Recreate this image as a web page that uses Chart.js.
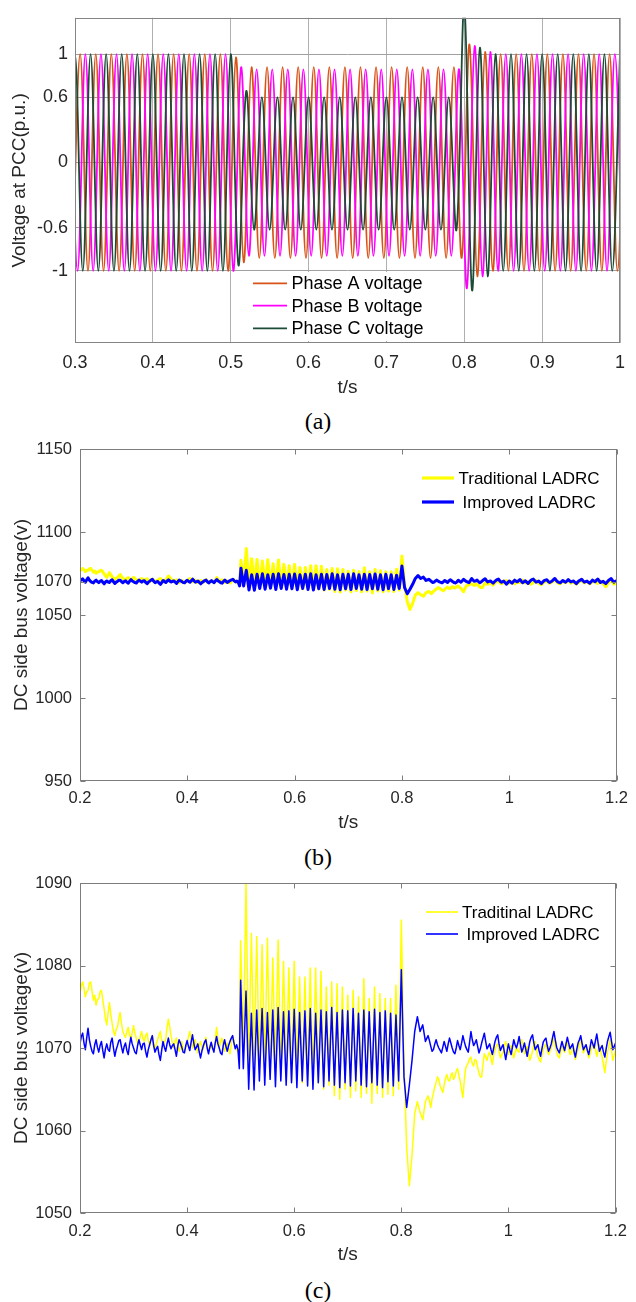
<!DOCTYPE html>
<html><head><meta charset="utf-8">
<script src="https://cdn.jsdelivr.net/npm/chart.js@4.4.0/dist/chart.umd.min.js"></script>
<style>
html,body{margin:0;padding:0;background:#fff;}
body{width:636px;height:1302px;position:relative;overflow:hidden;}
canvas{position:absolute;left:0;}
.cap{position:absolute;left:0;width:636px;text-align:center;font-family:"Liberation Serif","Times New Roman",serif;font-size:24px;color:#000;line-height:28px;}
</style></head><body>
<canvas id="ca" width="636" height="400" style="top:0px"></canvas>
<div class="cap" style="top:407px">(a)</div>
<canvas id="cb" width="636" height="405" style="top:430px"></canvas>
<div class="cap" style="top:843px">(b)</div>
<canvas id="cc" width="636" height="405" style="top:865px"></canvas>
<div class="cap" style="top:1276px">(c)</div>
<script>
// ---------- Panel (a) : tick values / labels ----------
const aXTicks = [0.3, 0.4, 0.5, 0.6, 0.7, 0.8, 0.9, 1];
const aXLabels = ['0.3', '0.4', '0.5', '0.6', '0.7', '0.8', '0.9', '1'];
const aYTicks = [-1, -0.6, 0, 0.6, 1];
const aYLabels = ['-1', '-0.6', '0', '0.6', '1'];
const aSeriesNames = ['Phase A voltage', 'Phase B voltage', 'Phase C voltage'];

// Phase voltages: successive extrema (p.u.), one every half cycle (0.01 s)
const phaseFirstTime = { A: 0.29667, B: 0.29333, C: 0.29 };
const halfCycle = 0.01;
const phaseA = [
  -1, 1, -1, 1, -1, 1, -1, 1, -1, 1,
  -1, 1, -1, 1, -1, 1, -1, 1, -1, 1,
  -1, 0.97, -0.92, 0.88, -0.88, 0.88, -0.88, 0.88, -0.88, 0.88,
  -0.88, 0.88, -0.88, 0.88, -0.88, 0.88, -0.88, 0.88, -0.88, 0.88,
  -0.88, 0.88, -0.88, 0.88, -0.88, 0.88, -0.88, 0.88, -0.88, 0.88,
  -0.88, 1.09, -1.05, 1.02, -1, 1, -1, 1, -1, 1,
  -1, 1, -1, 1, -1, 1, -1, 1, -1, 1,
  -1, 1
];
const phaseB = [
  1, -1, 1, -1, 1, -1, 1, -1, 1, -1,
  1, -1, 1, -1, 1, -1, 1, -1, 1, -1,
  1, -1, 0.88, -0.86, 0.86, -0.86, 0.86, -0.86, 0.86, -0.86,
  0.86, -0.86, 0.86, -0.86, 0.86, -0.86, 0.86, -0.86, 0.86, -0.86,
  0.86, -0.86, 0.86, -0.86, 0.86, -0.86, 0.86, -0.86, 0.86, -0.86,
  0.86, -1.16, 1.075, -1.05, 1.02, -1, 1, -1, 1, -1,
  1, -1, 1, -1, 1, -1, 1, -1, 1, -1,
  1, -1
];
const phaseC = [
  -1, 1, -1, 1, -1, 1, -1, 1, -1, 1,
  -1, 1, -1, 1, -1, 1, -1, 1, -1, 1,
  -1, 1, -0.95, 0.66, -0.62, 0.6, -0.62, 0.6, -0.62, 0.6,
  -0.62, 0.6, -0.62, 0.6, -0.62, 0.6, -0.62, 0.6, -0.62, 0.6,
  -0.62, 0.6, -0.62, 0.6, -0.62, 0.6, -0.62, 0.6, -0.62, 0.6,
  -0.62, 1.45, -1.18, 1.06, -1.05, 1, -1, 1, -1, 1,
  -1, 1, -1, 1, -1, 1, -1, 1, -1, 1,
  -1, 1
];

// ---------- Panels (b) and (c) : DC bus voltage ----------
const dcXTicks = [0.2, 0.4, 0.6, 0.8, 1, 1.2];
const dcXLabels = ['0.2', '0.4', '0.6', '0.8', '1', '1.2'];
const bYTicks = [950, 1000, 1050, 1070, 1100, 1150];
const cYTicks = [1050, 1060, 1070, 1080, 1090];
const bSeriesNames = ['Traditional LADRC', 'Improved LADRC'];
const cSeriesNames = ['Traditinal LADRC', 'Improved LADRC'];

// sampling of the three pieces: [first time, step]
const dcPiece1 = [0.2, 0.0025];   // 0.2000 - 0.4975
const dcPiece2 = [0.5, 0.005];    // 0.500  - 0.845
const dcPiece3 = [0.85, 0.0025];  // 0.8500 - 1.2000

const traditional1 = [
  1076.5, 1077.6, 1078.0, 1077.2, 1076.2, 1076.8, 1077.0, 1077.9, 1078.0, 1076.9,
  1075.8, 1076.4, 1075.2, 1075.9, 1076.0, 1076.8, 1077.0, 1075.9, 1074.8, 1073.6,
  1072.8, 1074.2, 1075.5, 1074.1, 1073.0, 1072.0, 1071.5, 1072.3, 1072.5, 1073.6,
  1074.3, 1073.0, 1072.0, 1071.6, 1071.3, 1072.0, 1072.5, 1071.6, 1071.0, 1071.9,
  1072.7, 1071.8, 1071.2, 1070.6, 1070.5, 1071.4, 1072.0, 1071.2, 1070.8, 1071.5,
  1071.8, 1070.9, 1070.2, 1071.0, 1071.5, 1070.6, 1069.8, 1070.5, 1071.0, 1071.6,
  1072.0, 1071.0, 1070.2, 1070.7, 1071.0, 1072.4, 1073.5, 1072.6, 1071.5, 1070.6,
  1070.0, 1070.8, 1071.2, 1070.3, 1069.6, 1070.2, 1070.8, 1070.0, 1069.5, 1070.1,
  1070.6, 1071.3, 1072.0, 1071.0, 1070.0, 1070.6, 1071.0, 1070.1, 1069.4, 1070.2,
  1070.8, 1070.2, 1069.8, 1070.6, 1071.3, 1070.4, 1069.5, 1070.1, 1070.5, 1069.9,
  1069.7, 1071.0, 1072.5, 1071.2, 1070.0, 1070.7, 1071.2, 1070.3, 1069.6, 1070.1,
  1070.6, 1069.9, 1069.3, 1070.4, 1071.5, 1070.8, 1070.2, 1069.8, 1069.5, 1070.0
];
const traditional2 = [
  1083.0, 1069.0, 1090.0, 1067.5, 1083.9, 1068.0, 1083.5, 1067.0, 1082.5, 1067.5,
  1083.3, 1066.8, 1080.9, 1067.2, 1083.1, 1066.5, 1080.5, 1066.8, 1079.7, 1066.0,
  1080.5, 1066.5, 1078.6, 1065.8, 1078.6, 1066.2, 1079.7, 1065.5, 1079.7, 1065.8,
  1079.3, 1065.0, 1077.4, 1065.5, 1078.0, 1064.2, 1077.8, 1063.8, 1077.4, 1065.0,
  1076.4, 1064.0, 1077.0, 1064.8, 1076.2, 1064.0, 1078.4, 1064.5, 1076.0, 1063.3,
  1077.4, 1064.5, 1076.6, 1064.0, 1076.0, 1064.4, 1076.0, 1064.2, 1077.6, 1065.0,
  1085.5, 1068.0, 1058.0, 1053.3, 1057.0, 1062.0, 1063.5, 1062.2, 1061.3, 1063.5
];
const traditional3 = [
  1064.2, 1063.6, 1062.8, 1063.9, 1064.5, 1065.3, 1065.8, 1066.5, 1066.2, 1065.4,
  1065.0, 1064.6, 1065.5, 1066.3, 1066.8, 1066.1, 1066.0, 1066.7, 1067.0, 1066.2,
  1066.5, 1067.2, 1067.5, 1066.7, 1066.0, 1064.9, 1064.0, 1066.0, 1067.5, 1067.9,
  1068.2, 1068.7, 1068.9, 1068.1, 1067.8, 1068.6, 1068.5, 1067.6, 1067.0, 1066.5,
  1066.5, 1068.0, 1069.3, 1068.9, 1068.5, 1069.2, 1069.5, 1068.7, 1068.0, 1069.1,
  1069.8, 1070.3, 1070.5, 1069.6, 1068.8, 1069.2, 1069.5, 1070.3, 1070.8, 1070.0,
  1069.2, 1069.9, 1070.3, 1069.4, 1068.8, 1069.5, 1070.0, 1069.6, 1069.5, 1070.4,
  1071.0, 1070.1, 1069.3, 1069.8, 1070.2, 1069.3, 1068.5, 1069.0, 1069.6, 1070.3,
  1070.8, 1069.9, 1069.0, 1068.6, 1068.3, 1069.1, 1069.8, 1070.2, 1070.5, 1069.7,
  1069.2, 1069.6, 1070.0, 1070.6, 1071.2, 1070.3, 1069.5, 1069.0, 1068.8, 1069.6,
  1070.3, 1069.8, 1069.5, 1070.2, 1070.8, 1070.0, 1069.2, 1069.5, 1070.0, 1069.3,
  1068.6, 1069.2, 1069.8, 1070.5, 1071.0, 1070.1, 1069.4, 1069.8, 1070.2, 1069.5,
  1068.8, 1069.3, 1069.9, 1070.3, 1070.6, 1069.8, 1069.0, 1069.7, 1070.4, 1069.6,
  1068.9, 1068.0, 1067.0, 1068.3, 1069.5, 1070.2, 1071.0, 1069.8, 1068.5, 1069.1,
  1069.8
];
const improved1 = [
  1070.5, 1071.4, 1071.8, 1070.6, 1069.8, 1071.2, 1072.4, 1071.0, 1070.2, 1069.6,
  1069.3, 1070.4, 1071.0, 1070.1, 1069.5, 1070.3, 1070.8, 1069.7, 1068.8, 1069.9,
  1070.5, 1069.8, 1069.6, 1070.7, 1071.2, 1070.0, 1069.0, 1069.8, 1070.3, 1070.9,
  1071.0, 1070.1, 1069.4, 1070.2, 1070.6, 1069.7, 1069.2, 1070.4, 1071.3, 1070.5,
  1070.0, 1069.5, 1069.3, 1070.3, 1071.0, 1070.4, 1069.8, 1070.5, 1070.6, 1069.6,
  1068.9, 1069.8, 1070.4, 1071.0, 1071.5, 1070.3, 1069.5, 1069.9, 1070.2, 1069.2,
  1068.5, 1069.7, 1070.8, 1070.1, 1069.6, 1070.5, 1071.2, 1070.4, 1069.9, 1070.3,
  1070.5, 1069.8, 1069.0, 1070.2, 1071.0, 1070.6, 1070.1, 1069.5, 1069.4, 1070.3,
  1070.9, 1070.2, 1069.7, 1070.7, 1071.6, 1070.6, 1069.8, 1070.1, 1070.5, 1069.6,
  1068.8, 1069.6, 1070.2, 1070.7, 1071.0, 1070.0, 1069.3, 1070.1, 1070.7, 1070.0,
  1069.5, 1070.6, 1071.4, 1070.5, 1070.0, 1069.4, 1069.2, 1070.3, 1071.0, 1070.2,
  1069.6, 1070.3, 1070.8, 1071.2, 1071.5, 1070.6, 1069.9, 1070.4, 1069.8, 1067.5
];
const improved2 = [
  1078.2, 1067.5, 1076.9, 1065.0, 1074.2, 1064.9, 1074.6, 1066.0, 1074.8, 1065.5,
  1074.3, 1066.2, 1074.6, 1065.3, 1074.9, 1066.0, 1074.4, 1065.5, 1074.5, 1065.8,
  1074.7, 1065.2, 1074.3, 1066.0, 1074.5, 1065.4, 1074.8, 1065.0, 1074.2, 1065.8,
  1074.6, 1065.3, 1074.4, 1066.0, 1074.9, 1065.5, 1074.3, 1065.2, 1074.6, 1065.8,
  1074.5, 1065.4, 1074.8, 1066.0, 1074.2, 1065.5, 1074.6, 1065.3, 1074.4, 1065.8,
  1074.7, 1065.5, 1074.3, 1065.2, 1074.5, 1065.9, 1074.2, 1065.4, 1074.0, 1066.0,
  1079.5, 1066.5, 1062.8, 1065.5, 1068.5, 1072.0, 1073.8, 1072.0, 1072.8, 1070.8
];
const improved3 = [
  1071.5, 1070.9, 1070.2, 1069.6, 1069.8, 1070.5, 1071.0, 1070.4, 1070.0, 1069.7,
  1069.4, 1070.1, 1070.8, 1070.2, 1069.6, 1070.5, 1071.2, 1070.6, 1070.0, 1069.5,
  1069.3, 1070.0, 1070.9, 1070.3, 1069.8, 1070.6, 1071.5, 1070.8, 1070.2, 1069.8,
  1069.5, 1070.7, 1072.0, 1071.0, 1070.3, 1070.6, 1071.0, 1070.2, 1069.4, 1069.9,
  1070.6, 1071.2, 1071.8, 1070.8, 1069.9, 1070.2, 1070.5, 1069.8, 1069.2, 1070.0,
  1070.8, 1071.3, 1071.6, 1070.5, 1069.7, 1070.1, 1070.4, 1069.5, 1068.6, 1069.6,
  1070.5, 1069.8, 1069.2, 1070.1, 1071.0, 1070.4, 1070.0, 1070.6, 1071.4, 1070.4,
  1069.5, 1070.0, 1070.6, 1069.8, 1069.0, 1069.9, 1070.8, 1071.3, 1071.6, 1070.6,
  1069.8, 1070.1, 1070.4, 1069.6, 1069.0, 1069.9, 1070.7, 1071.0, 1071.2, 1070.3,
  1069.6, 1070.0, 1070.5, 1071.3, 1072.0, 1071.0, 1070.1, 1069.7, 1069.4, 1070.1,
  1070.8, 1070.2, 1069.7, 1070.5, 1071.3, 1070.6, 1069.9, 1070.2, 1070.5, 1069.6,
  1068.9, 1069.8, 1070.6, 1071.0, 1071.5, 1070.6, 1069.8, 1070.1, 1070.4, 1069.7,
  1069.2, 1070.1, 1071.0, 1070.5, 1070.0, 1070.9, 1071.7, 1070.6, 1069.6, 1070.0,
  1070.3, 1069.5, 1068.9, 1069.9, 1070.8, 1071.4, 1071.9, 1070.8, 1069.8, 1070.2,
  1070.6
];

// ---------- helpers ----------
const FONT = "'Liberation Sans', Arial, Helvetica, sans-serif";
const TXT = '#262626';
function series(first, step, values) {
  return values.map((v, i) => ({ x: +(first + step * i).toFixed(5), y: v }));
}
function pieces(p1, p2, p3) {
  return series(dcPiece1[0], dcPiece1[1], p1)
    .concat(series(dcPiece2[0], dcPiece2[1], p2))
    .concat(series(dcPiece3[0], dcPiece3[1], p3));
}
function fixedTicks(list) { return (s) => { s.ticks = list.map(v => ({ value: v })); }; }

function decorPlugin(cfg) {
  return {
    id: 'decor',
    afterDatasetsDraw(chart) {
      const ctx = chart.ctx;
      ctx.save();
      if (cfg.legendBg) {
        ctx.fillStyle = '#ffffff';
        ctx.fillRect(cfg.legendBg[0], cfg.legendBg[1], cfg.legendBg[2], cfg.legendBg[3]);
      }
      cfg.legend.forEach(it => {
        ctx.strokeStyle = it.color; ctx.lineWidth = it.w; ctx.lineCap = 'butt';
        ctx.beginPath(); ctx.moveTo(it.x1, it.y); ctx.lineTo(it.x2, it.y); ctx.stroke();
        ctx.fillStyle = '#000'; ctx.font = cfg.legendFont + 'px ' + FONT;
        ctx.textBaseline = 'middle'; ctx.textAlign = 'left';
        ctx.fillText(it.text, it.tx, it.y + 1);
      });
      ctx.restore();
    },
    afterDraw(chart) {
      const ctx = chart.ctx, a = chart.chartArea;
      ctx.save();
      ctx.strokeStyle = cfg.boxColor; ctx.lineWidth = 1;
      const L = Math.round(a.left) + 0.5, R = Math.round(a.right) - 0.5;
      const T = Math.round(a.top) + 0.5, B = Math.round(a.bottom) - 0.5;
      ctx.strokeRect(L, T, R - L, B - T);
      if (cfg.tickLen) {
        const xs = chart.scales.x, ys = chart.scales.y, t = cfg.tickLen;
        ctx.beginPath();
        xs.ticks.forEach(tk => {
          const px = Math.round(xs.getPixelForValue(tk.value)) + 0.5;
          ctx.moveTo(px, B); ctx.lineTo(px, B - t);
          ctx.moveTo(px, T); ctx.lineTo(px, T + t);
        });
        ys.ticks.forEach(tk => {
          const py = Math.round(ys.getPixelForValue(tk.value)) + 0.5;
          ctx.moveTo(L, py); ctx.lineTo(L + t, py);
          ctx.moveTo(R, py); ctx.lineTo(R - t, py);
        });
        ctx.stroke();
      }
      ctx.restore();
    }
  };
}

// ---------- Chart (a) ----------
const colA = '#D95319', colB = '#FF00FF', colC = '#1C4B36';
new Chart(document.getElementById('ca'), {
  type: 'line',
  data: { datasets: [
    { label: aSeriesNames[2], data: series(phaseFirstTime.C, halfCycle, phaseC), borderColor: colC },
    { label: aSeriesNames[1], data: series(phaseFirstTime.B, halfCycle, phaseB), borderColor: colB },
    { label: aSeriesNames[0], data: series(phaseFirstTime.A, halfCycle, phaseA), borderColor: colA }
  ]},
  options: {
    responsive: false, animation: false, devicePixelRatio: 1,
    layout: { padding: { left: 0, right: 16, top: 13, bottom: 0 } },
    elements: { point: { radius: 0 }, line: { tension: 0.363, borderWidth: 1.8, fill: false } },
    plugins: { legend: { display: false }, tooltip: { enabled: false } },
    scales: {
      x: {
        type: 'linear', min: 0.3, max: 1,
        afterBuildTicks: fixedTicks(aXTicks),
        afterFit: s => { s.height = 57; },
        ticks: { callback: (v, i) => aXLabels[i], padding: 9, autoSkip: false, maxRotation: 0,
                 color: TXT, font: { family: FONT, size: 18 } },
        grid: { color: '#b0b0b0', lineWidth: 1, drawTicks: false },
        border: { display: false },
        title: { display: true, text: 't/s', color: TXT, font: { family: FONT, size: 19 }, padding: { top: 0, bottom: 1 } }
      },
      y: {
        type: 'linear', min: -1.665, max: 1.335,
        afterBuildTicks: fixedTicks(aYTicks),
        afterFit: s => { s.width = 75; },
        ticks: { callback: (v, i) => aYLabels[i], padding: 7, autoSkip: false,
                 color: TXT, font: { family: FONT, size: 18 } },
        grid: { color: '#a0a0a0', lineWidth: 1, drawTicks: false },
        border: { display: false },
        title: { display: true, text: 'Voltage at PCC(p.u.)', color: TXT, font: { family: FONT, size: 19 }, padding: { top: 8.5, bottom: 0 } }
      }
    }
  },
  plugins: [decorPlugin({
    boxColor: '#858585', tickLen: 0, legendFont: 18,
    legendBg: [245, 272, 188, 69],
    legend: [
      { text: aSeriesNames[0], color: colA, w: 1.8, x1: 253, x2: 287, tx: 291.5, y: 283.3 },
      { text: aSeriesNames[1], color: colB, w: 1.8, x1: 253, x2: 287, tx: 291.5, y: 305.7 },
      { text: aSeriesNames[2], color: colC, w: 1.8, x1: 253, x2: 287, tx: 291.5, y: 328.3 }
    ]
  })]
});

// ---------- Charts (b) and (c) ----------
function dcChart(id, top, cfg) {
  new Chart(document.getElementById(id), {
    type: 'line',
    data: { datasets: [
      { label: cfg.names[1], data: pieces(improved1, improved2, improved3), borderColor: '#0000FF', borderWidth: cfg.lw },
      { label: cfg.names[0], data: pieces(traditional1, traditional2, traditional3), borderColor: '#FFFF00', borderWidth: cfg.lw }
    ]},
    options: {
      responsive: false, animation: false, devicePixelRatio: 1,
      layout: { padding: { left: 0, right: 16, top: cfg.padTop, bottom: 0 } },
      elements: { point: { radius: 0 }, line: { tension: 0, fill: false, borderJoinStyle: 'round' } },
      plugins: { legend: { display: false }, tooltip: { enabled: false } },
      scales: {
        x: {
          type: 'linear', min: 0.2, max: 1.2,
          afterBuildTicks: fixedTicks(dcXTicks),
          afterFit: s => { s.height = cfg.xh; },
          ticks: { callback: (v, i) => dcXLabels[i], padding: cfg.xPad, autoSkip: false, maxRotation: 0,
                   color: TXT, font: { family: FONT, size: 16.5 } },
          grid: { display: false, drawTicks: false },
          border: { display: false },
          title: { display: true, text: 't/s', color: TXT, font: { family: FONT, size: 19 }, padding: { top: 0, bottom: cfg.tPad } }
        },
        y: {
          type: 'linear', min: cfg.yMin, max: cfg.yMax,
          afterBuildTicks: fixedTicks(cfg.yTicks),
          afterFit: s => { s.width = 80; },
          ticks: { callback: (v, i) => String(cfg.yTicks[i]), padding: 8, autoSkip: false,
                   color: TXT, font: { family: FONT, size: 16.5 } },
          grid: { display: false, drawTicks: false },
          border: { display: false },
          title: { display: true, text: 'DC side bus voltage(v)', color: TXT, font: { family: FONT, size: 19 }, padding: { top: 10, bottom: 0 } }
        }
      }
    },
    plugins: [decorPlugin({
      boxColor: '#7d7d7d', tickLen: 5, legendFont: 17,
      legend: [
        { text: cfg.names[0], color: '#FFFF00', w: cfg.legW, x1: cfg.lx1, x2: cfg.lx2, tx: cfg.tx1, y: cfg.ly1 - top },
        { text: cfg.names[1], color: '#0000FF', w: cfg.legW, x1: cfg.lx1, x2: cfg.lx2, tx: cfg.tx2, y: cfg.ly2 - top }
      ]
    })]
  });
}
dcChart('cb', 430, { names: bSeriesNames, lw: 3, legW: 3.2, padTop: 19, xh: 54, xPad: 8, tPad: 1,
  yMin: 950, yMax: 1150, yTicks: bYTicks, lx1: 422, lx2: 454, tx1: 458.5, tx2: 462.5, ly1: 478, ly2: 502 });
dcChart('cc', 865, { names: cSeriesNames, lw: 1.5, legW: 1.6, padTop: 18, xh: 57, xPad: 9, tPad: 3.5,
  yMin: 1050, yMax: 1090, yTicks: cYTicks, lx1: 426, lx2: 458, tx1: 462, tx2: 466.5, ly1: 912, ly2: 934 });
</script>
</body></html>
